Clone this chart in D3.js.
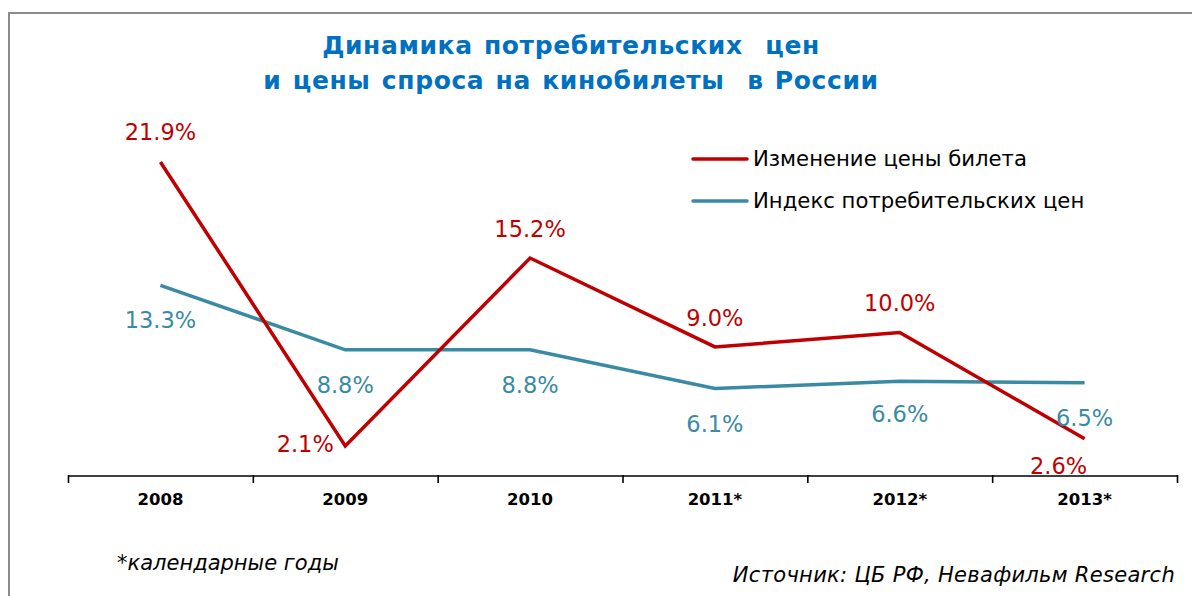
<!DOCTYPE html>
<html>
<head>
<meta charset="utf-8">
<script src="https://cdn.jsdelivr.net/npm/d3@7"></script>
<style>
  body { margin: 0; background: #fff; }
  svg { display: block; font-family: "DejaVu Sans", Verdana, sans-serif; }
</style>
</head>
<body>
<svg id="chart" width="1192" height="596"></svg>
<script>
// data
const years = ["2008", "2009", "2010", "2011*", "2012*", "2013*"];
const ticketChange = [21.9, 2.1, 15.2, 9.0, 10.0, 2.6];
const cpiValues = [13.3, 8.8, 8.8, 6.1, 6.6, 6.5];
const seriesNames = ["Изменение цены билета", "Индекс потребительских цен"];
const titleLines = ["Динамика потребительских  цен", "и цены спроса на кинобилеты  в России"];

const RED = "#C00000";
const BLUE = "#3A8AA3";

const svg = d3.select("#chart");

// frame (only left and top edges show)
svg.append("path")
    .attr("d", "M9,596 V13 H1192")
    .attr("fill", "none")
    .attr("stroke", "#8c8c8c")
    .attr("stroke-width", 2);

const x = d3.scaleBand().domain(years).range([68, 1177]).padding(0);
const y = d3.scaleLinear().domain([0, 25]).range([476, 476 - 25 * 14.34]);
const xEdge = d3.scaleLinear().domain([0, years.length]).range([68, 1177]);

// title
svg.append("g").selectAll("text")
    .data(titleLines)
    .enter().append("text")
    .attr("x", 571)
    .attr("y", (d, i) => 54 + i * 35)
    .attr("text-anchor", "middle")
    .attr("fill", "#0070C0")
    .attr("font-weight", "bold")
    .attr("font-size", 25)
    .attr("letter-spacing", 0.6)
    .attr("word-spacing", 2)
    .attr("xml:space", "preserve")
    .style("white-space", "pre")
    .text(d => d);

// axis: boundary ticks
const edgeAxis = d3.axisBottom(xEdge).ticks(years.length).tickSize(7).tickFormat("");
const gEdge = svg.append("g").attr("transform", "translate(0,476)").call(edgeAxis);
gEdge.select(".domain").attr("stroke", "#000").attr("stroke-width", 1.6).attr("d", "M68,0H1177");
gEdge.selectAll(".tick line").attr("stroke", "#000").attr("stroke-width", 1.6).attr("y1", -1);

// axis: category labels
const labelAxis = d3.axisBottom(x).tickSize(0).tickPadding(17);
const gLab = svg.append("g").attr("transform", "translate(0,476)").call(labelAxis);
gLab.select(".domain").remove();
gLab.selectAll("text")
    .attr("font-family", "'DejaVu Sans', Verdana, sans-serif")
    .attr("font-size", 16.5)
    .attr("font-weight", "bold")
    .attr("fill", "#000");

const cx = d => x(d) + x.bandwidth() / 2;
const line = d3.line().x(d => cx(d.year)).y(d => y(d.value));

const cpiData = years.map((yr, i) => ({year: yr, value: cpiValues[i]}));
const ticketData = years.map((yr, i) => ({year: yr, value: ticketChange[i]}));

svg.append("path").datum(cpiData)
    .attr("d", line).attr("fill", "none")
    .attr("stroke", BLUE).attr("stroke-width", 3.5);
svg.append("path").datum(ticketData)
    .attr("d", line).attr("fill", "none")
    .attr("stroke", RED).attr("stroke-width", 3.5);

// data labels: offsets relative to point [dx, dy]
const ticketOffsets = [[0, -22], [-40, 6], [0, -21], [0, -21], [0, -22], [-26, 35]];
const cpiOffsets = [[0, 43], [0, 43], [0, 43], [0, 43], [0, 41], [0, 43]];

function fmt(v) { return v.toFixed(1) + "%"; }

svg.append("g").selectAll("text")
    .data(ticketData)
    .enter().append("text")
    .attr("x", (d, i) => cx(d.year) + ticketOffsets[i][0])
    .attr("y", (d, i) => y(d.value) + ticketOffsets[i][1])
    .attr("text-anchor", "middle")
    .attr("fill", RED)
    .attr("font-size", 22.5)
    .text(d => fmt(d.value));

svg.append("g").selectAll("text")
    .data(cpiData)
    .enter().append("text")
    .attr("x", (d, i) => cx(d.year) + cpiOffsets[i][0])
    .attr("y", (d, i) => y(d.value) + cpiOffsets[i][1])
    .attr("text-anchor", "middle")
    .attr("fill", BLUE)
    .attr("font-size", 22.5)
    .text(d => fmt(d.value));

// legend
const legend = svg.append("g").attr("transform", "translate(693,159)");
const legColors = [RED, BLUE];
const legItem = legend.selectAll("g")
    .data(seriesNames)
    .enter().append("g")
    .attr("transform", (d, i) => "translate(0," + i * 42 + ")");
legItem.append("line")
    .attr("x1", 0).attr("x2", 54)
    .attr("stroke", (d, i) => legColors[i])
    .attr("stroke-width", 3.5)
    .attr("stroke-linecap", "round");
legItem.append("text")
    .attr("x", 60).attr("y", 7)
    .attr("font-size", 21.2)
    .attr("fill", "#000")
    .text(d => d);

// footnotes
svg.append("text")
    .attr("x", 117).attr("y", 570)
    .attr("font-size", 21)
    .attr("font-style", "italic")
    .attr("fill", "#000")
    .text("*календарные годы");
svg.append("text")
    .attr("x", 1175).attr("y", 582)
    .attr("text-anchor", "end")
    .attr("font-size", 21)
    .attr("letter-spacing", 0.3)
    .attr("font-style", "italic")
    .attr("fill", "#000")
    .text("Источник: ЦБ РФ, Невафильм Research");
</script>
</body>
</html>
